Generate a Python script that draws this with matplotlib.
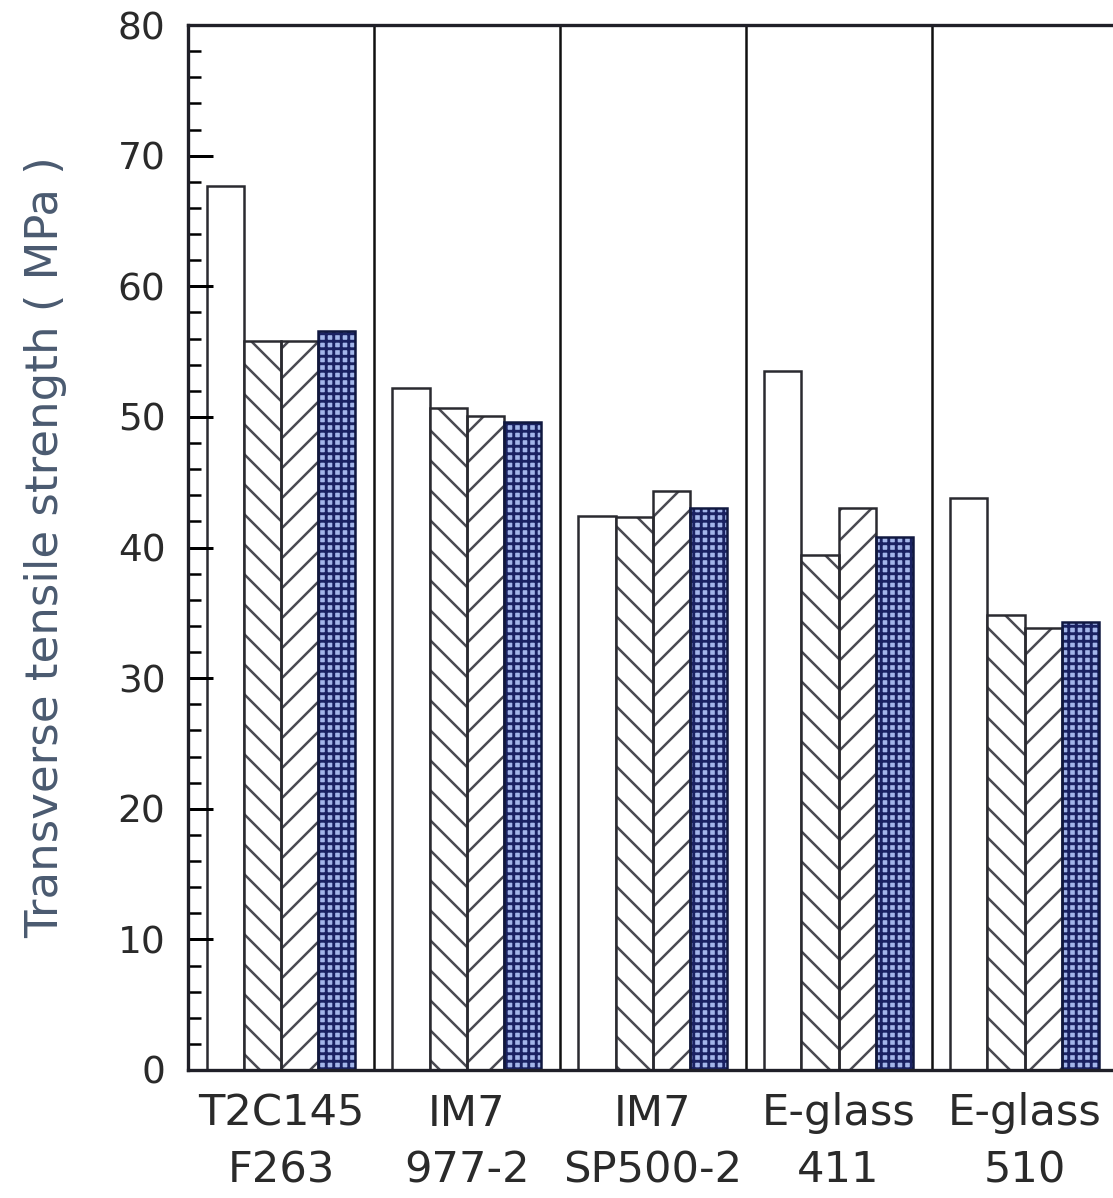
import numpy as np
import matplotlib.pyplot as plt
from matplotlib.ticker import MultipleLocator

# data
groups = ['T2C145\nF263', 'IM7\n977-2', 'IM7\nSP500-2', 'E-glass\n411', 'E-glass\n510']
plain = [67.7, 52.2, 42.4, 53.5, 43.8]
hatch_a = [55.8, 50.7, 42.3, 39.4, 34.8]
hatch_b = [55.8, 50.1, 44.3, 43.0, 33.8]
dotted = [56.6, 49.6, 43.0, 40.8, 34.3]

dpi = 180
plt.rcParams['font.family'] = ['DejaVu Sans']

fig = plt.figure(figsize=(1113 / dpi, 1198 / dpi), dpi=dpi)
fig.patch.set_facecolor('#ffffff')
ax = fig.add_axes([188 / 1113, 1 - 1070 / 1198, 1 - 188 / 1113 + 0.004, (1070 - 25) / 1198])

x = np.arange(len(groups))
w = 0.2
edge = '#2a2a30'

ax.bar(x - 1.5 * w, plain, w, facecolor='white', edgecolor=edge, linewidth=1.0)
with plt.rc_context({'hatch.linewidth': 1.0}):
    ax.bar(x - 0.5 * w, hatch_a, w, facecolor='white', edgecolor='#4a4a52', hatch='\\\\', linewidth=0)
    ax.bar(x + 0.5 * w, hatch_b, w, facecolor='white', edgecolor='#4a4a52', hatch='//', linewidth=0)
with plt.rc_context({'hatch.linewidth': 1.15}):
    ax.bar(x + 1.5 * w, dotted, w, facecolor='#a3b6ea', edgecolor='#1a2262', hatch='++++', linewidth=0)
ax.bar(x - 0.5 * w, hatch_a, w, fill=False, edgecolor=edge, linewidth=1.0)
ax.bar(x + 0.5 * w, hatch_b, w, fill=False, edgecolor=edge, linewidth=1.0)
ax.bar(x + 1.5 * w, dotted, w, fill=False, edgecolor='#101840', linewidth=1.0)

# separators between the groups
for s in x[:-1] + 0.5:
    ax.axvline(s, color='#101010', linewidth=1.0)

ax.set_xlim(-0.5, len(groups) - 0.5)
ax.set_ylim(0, 80)
ax.yaxis.set_major_locator(MultipleLocator(10))
ax.yaxis.set_minor_locator(MultipleLocator(2))
ax.tick_params(axis='y', which='major', direction='in', length=10, width=1.2,
               labelsize=15, labelcolor='#2a2a2a', pad=9)
ax.tick_params(axis='y', which='minor', direction='in', length=5.3, width=1.0)
ax.set_xticks(x)
ax.set_xticklabels(groups, fontsize=17.3, color='#2a2a2a', linespacing=1.45)
ax.tick_params(axis='x', length=0, pad=9)

for side in ['left', 'bottom', 'top']:
    ax.spines[side].set_linewidth(1.33)
    ax.spines[side].set_color('#202028')
ax.spines['right'].set_visible(False)

ax.set_ylabel('Transverse tensile strength ( MPa )', fontsize=18, color='#4a5a70', labelpad=20)

fig.savefig('out.png', dpi=dpi)
